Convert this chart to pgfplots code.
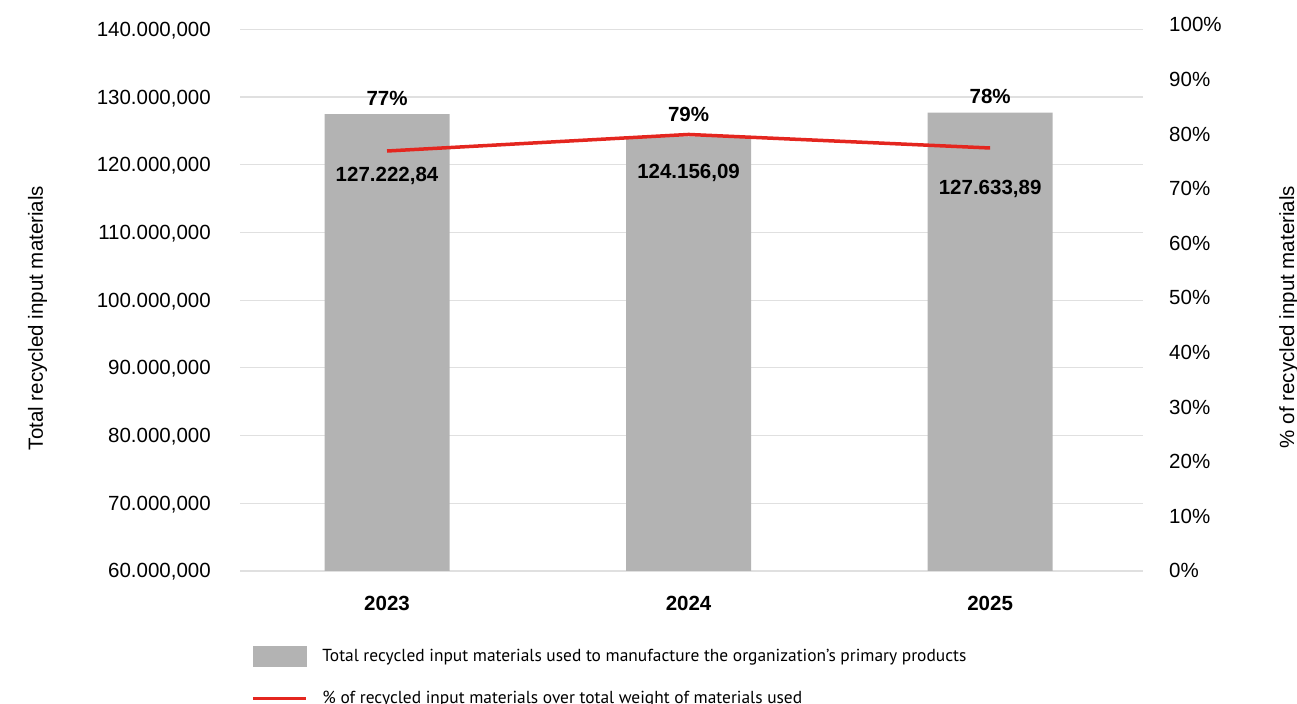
\documentclass[border=0pt]{standalone}
\usepackage{fontspec}
\setmainfont{Liberation Sans}
\newfontfamily\legendfont{PT Sans}
\usepackage{pgfplots}
\pgfplotsset{compat=1.18}
\definecolor{bargray}{HTML}{B3B3B3}
\definecolor{linered}{HTML}{E4261F}
\definecolor{gridgray}{HTML}{E0E0E0}
\newcommand{\lbl}{\fontsize{20.5bp}{24bp}\selectfont}
\begin{document}
\begin{tikzpicture}[x=1bp,y=1bp]
\useasboundingbox (0,0) rectangle (1297,704);
\begin{scope}
\clip (0,0) rectangle (1297,704);
\begin{axis}[
  at={(240bp,133bp)}, anchor=south west,
  scale only axis, width=903bp, height=546bp,
  xmin=-0.4876, xmax=2.507,
  ymin=60, ymax=140.65,
  axis line style={draw=none}, tick style={draw=none}, major tick length=0pt,
  xtick={0,1,2}, xticklabels={2023,2024,2025},
  xticklabel style={font=\lbl\bfseries, anchor=base, inner sep=0pt, yshift=-40bp},
  ytick={60,70,80,90,100,110,120,130,140},
  yticklabels={{60.000,000},{70.000,000},{80.000,000},{90.000,000},{100.000,000},{110.000,000},{120.000,000},{130.000,000},{140.000,000}},
  yticklabel style={font=\lbl, anchor=base east, inner sep=0pt, xshift=-29bp, yshift=-7bp},
  ymajorgrids, grid style={gridgray, line width=1.2bp},
  ylabel={Total recycled input materials},
  ylabel style={at={(rel axis cs:-0.2182,0.4634)}, anchor=base, font=\lbl},
]
\addplot[ybar, bar width=125bp, fill=bargray, draw=none] coordinates {(0,127.5) (1,124.2) (2,127.7)};
\node[anchor=base, font=\lbl\bfseries] at (axis cs:0,128.83) {77\%};
\node[anchor=base, font=\lbl\bfseries] at (axis cs:1,126.37) {79\%};
\node[anchor=base, font=\lbl\bfseries] at (axis cs:2,128.98) {78\%};
\node[anchor=base, font=\lbl\bfseries] at (axis cs:0,117.46) {127.222,84};
\node[anchor=base, font=\lbl\bfseries] at (axis cs:1,118.01) {124.156,09};
\node[anchor=base, font=\lbl\bfseries] at (axis cs:2,115.64) {127.633,89};
\end{axis}
\begin{axis}[
  at={(240bp,133bp)}, anchor=south west,
  scale only axis, width=903bp, height=546bp,
  xmin=-0.4876, xmax=2.507,
  ymin=0, ymax=100,
  axis y line*=right, axis x line=none,
  axis line style={draw=none}, tick style={draw=none}, major tick length=0pt,
  ytick={0,10,20,30,40,50,60,70,80,90,100},
  yticklabels={0\%,10\%,20\%,30\%,40\%,50\%,60\%,70\%,80\%,90\%,100\%},
  yticklabel style={font=\lbl, anchor=base west, inner sep=0pt, xshift=26bp, yshift=-7bp},
  ylabel={\% of recycled input materials},
  ylabel style={at={(rel axis cs:1.1672,0.4652)}, anchor=base, font=\lbl},
  legend cell align=left,
  legend style={at={(0.01218,-0.1374)}, anchor=north west, draw=none, fill=none,
    inner sep=0pt, outer sep=0pt, row sep=23bp,
    font=\legendfont\fontsize{17.4bp}{20bp}\selectfont,
    /tikz/every odd column/.append style={column sep=13bp}},
]
\addlegendimage{legend image code/.code={\fill[bargray] (0bp,-10bp) rectangle (53bp,10bp);}}
\addlegendentry{Total recycled input materials used to manufacture the organization’s primary products}
\addplot[linered, line width=3.5bp, mark=none,
  legend image code/.code={\draw[linered, line width=3.5bp] (0bp,0bp) -- (53bp,0bp);}]
  coordinates {(0,76.92) (1,79.95) (2,77.47)};
\addlegendentry{\% of recycled input materials over total weight of materials used}
\end{axis}
\end{scope}
\end{tikzpicture}
\end{document}
